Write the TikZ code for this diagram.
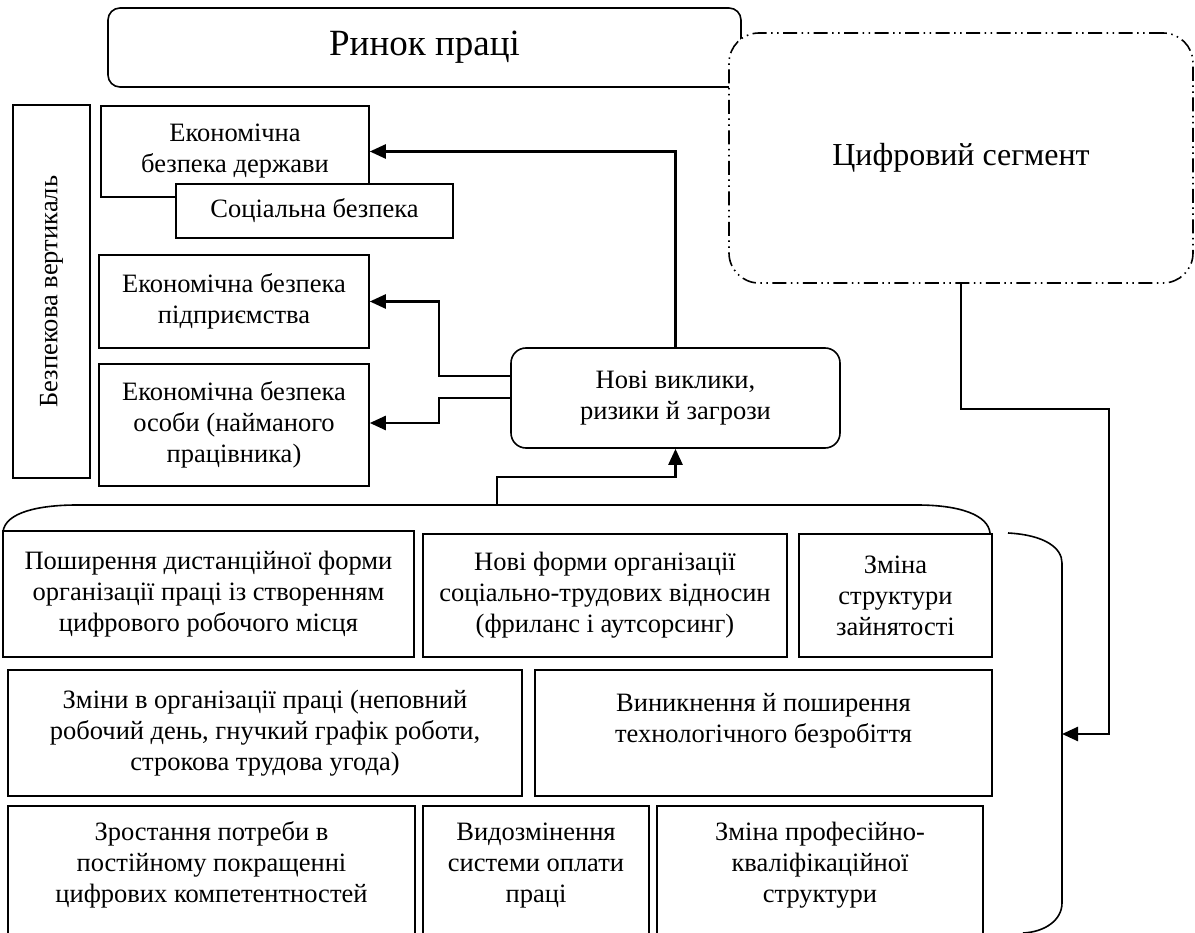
\documentclass[tikz,border=0pt]{standalone}
\usepackage{fontspec}
\setmainfont{Liberation Serif}
\usetikzlibrary{arrows.meta}

\begin{document}
\begin{tikzpicture}[x=1pt, y=-1pt,
    box/.style={draw, line width=1.6pt, align=center, inner sep=0pt, fill=white,
      font=\fontsize{26.5}{31}\selectfont},
    rbox/.style={box, rounded corners=15pt},
    dashdot/.style={dash pattern=on 14pt off 4.5pt on 1.5pt off 4.5pt on 1.5pt off 4.5pt},
    conn/.style={line width=2.5pt, -{Triangle[length=16pt,width=14pt]}},
    brace/.style={line width=1.6pt}
  ]
    \useasboundingbox (0,0) rectangle (1195,933);

    \node[rbox, rounded corners=12pt, minimum width=633pt, minimum height=79pt, font=\fontsize{37}{42}\selectfont] (rynok) at (424.5,47.5) {Ринок праці};
    \node[rbox, dashdot, rounded corners=30pt, minimum width=464pt, minimum height=250pt, font=\fontsize{32}{38}\selectfont] (cyfr) at (961,158) {Цифровий сегмент};

    \node[box, rotate=90, minimum width=373pt, minimum height=77pt] (vert) at (51.5,291.5) {Безпекова вертикаль};
    \node[box, minimum width=268pt, minimum height=91pt] (derzh) at (235,151.5) {Економічна\\безпека держави};
    \node[box, minimum width=277pt, minimum height=54pt] (soc) at (314.5,211) {Соціальна безпека};
    \node[box, minimum width=270pt, minimum height=93pt] (pidpr) at (234,301.5) {Економічна безпека\\підприємства};
    \node[box, minimum width=270pt, minimum height=122pt] (osoby) at (234,425) {Економічна безпека\\особи (найманого\\працівника)};

    \node[rbox, minimum width=329pt, minimum height=100pt] (nv) at (675.5,398) {Нові виклики,\\ризики й загрози};

    % row 1
    \node[box, minimum width=411pt, minimum height=126pt] (dist) at (208.5,594) {Поширення дистанційної форми\\організації праці із створенням\\цифрового робочого місця};
    \node[box, minimum width=364pt, minimum height=123pt] (formy) at (605,595.5) {Нові форми організації\\соціально-трудових відносин\\(фриланс і аутсорсинг)};
    \node[box, minimum width=193pt, minimum height=123pt] (zain) at (895.5,595.5) {Зміна\\структури\\зайнятості};
    % row 2
    \node[box, minimum width=514pt, minimum height=126pt] (org) at (265,733) {Зміни в організації праці (неповний\\робочий день, гнучкий графік роботи,\\строкова трудова угода)};
    \node[box, minimum width=457pt, minimum height=126pt] (bezr) at (763.5,733) {Виникнення й поширення\\технологічного безробіття\\~};
    % row 3
    \node[box, minimum width=407pt, minimum height=144pt] (komp) at (211.5,878) {Зростання потреби в\\постійному покращенні\\цифрових компетентностей\\~};
    \node[box, minimum width=226pt, minimum height=144pt] (oplata) at (536,878) {Видозмінення\\системи оплати\\праці\\~};
    \node[box, minimum width=326pt, minimum height=144pt] (prof) at (820,878) {Зміна професійно-\\кваліфікаційної\\структури\\~};

    \draw[brace] (3,532) .. controls (5,512) and (40,505) .. (77,505) -- (917,505) .. controls (960,505) and (988,515) .. (990,533);
    \draw[brace] (1008,533) .. controls (1045,535) and (1062,548) .. (1062,563) -- (1062,903) .. controls (1062,920) and (1045,932) .. (1023,933);
    \coordinate (brtop) at (497,505);
    \coordinate (brright) at (1062,734);

    \draw[conn] (nv.north) |- (derzh.east);
    \draw[conn] ([yshift=22pt]nv.west) -- ++(-71,0) |- (pidpr.east);
    \draw[conn] (nv.west) -- ++(-71,0) |- ([yshift=2pt]osoby.east);
    \draw[conn] (brtop) -- ++(0,-28) -| (nv.south);
    \draw[conn] (cyfr.south) -- ++(0,125) -- ++(148,0) |- (brright);
\end{tikzpicture}
\end{document}
